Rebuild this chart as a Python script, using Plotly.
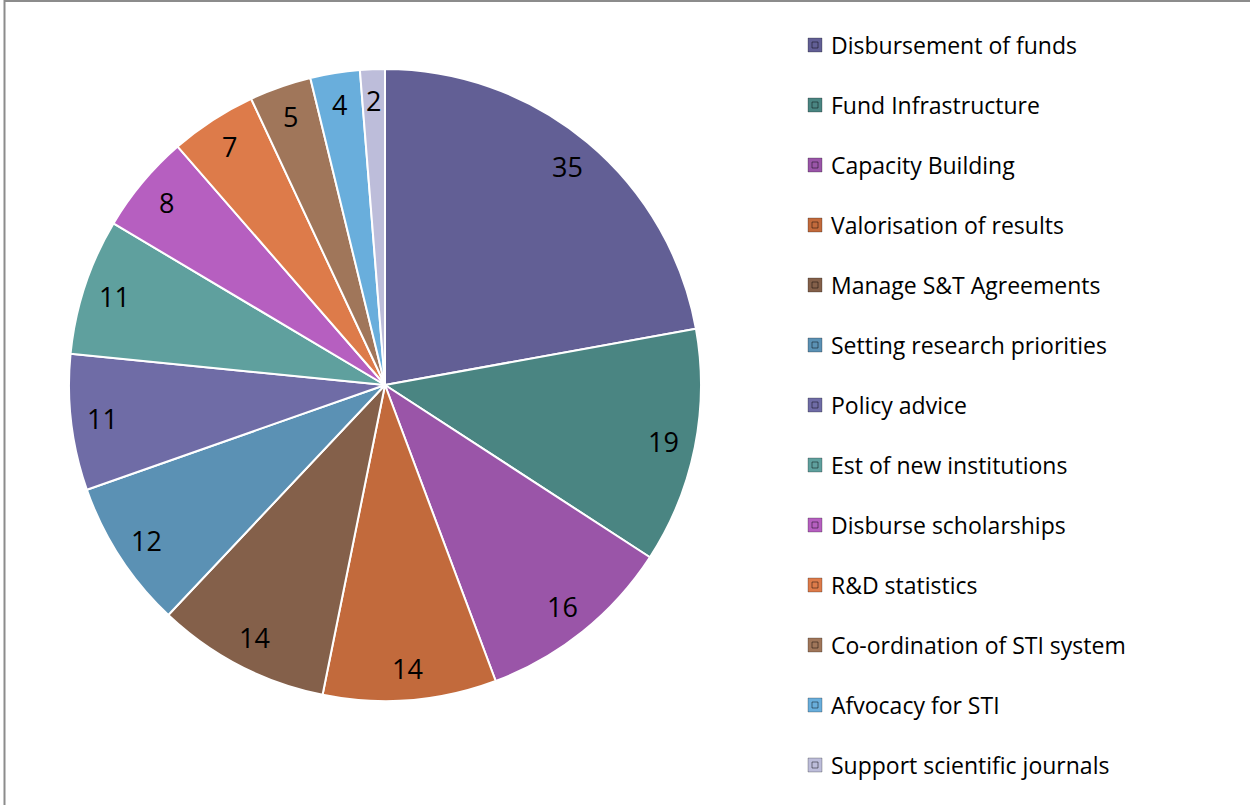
import math
import plotly.graph_objects as go

categories = [
    "Disbursement of funds", "Fund Infrastructure", "Capacity Building",
    "Valorisation of results", "Manage S&T Agreements", "Setting research priorities",
    "Policy advice", "Est of new institutions", "Disburse scholarships",
    "R&D statistics", "Co-ordination of STI system", "Afvocacy for STI",
    "Support scientific journals",
]
values = [35, 19, 16, 14, 14, 12, 11, 11, 8, 7, 5, 4, 2]
colors = [
    "#625F95", "#4A8582", "#9A55A8", "#C26A3C", "#84604A", "#5B91B4",
    "#6F6CA6", "#5FA09E", "#B65FC0", "#DD7B4A", "#A0765A", "#69AEDC",
    "#BDBDDA",
]

W, H = 1250, 805
cx, cy, R = 385, 385, 316

fig = go.Figure()
fig.add_trace(go.Pie(
    labels=categories, values=values, sort=False, direction="clockwise",
    rotation=0, marker=dict(colors=colors, line=dict(color="white", width=2)),
    textinfo="none", showlegend=False, hoverinfo="label+value",
    domain=dict(x=[(cx - R) / W, (cx + R) / W], y=[1 - (cy + R) / H, 1 - (cy - R) / H]),
))

shapes = []
annotations = []

# value labels placed near the outer edge of each slice (mid-angle)
total = sum(values)
cum = 0
for v in values:
    ang = math.radians((cum + v / 2) / total * 360)
    cum += v
    r = 0.9 * R
    px = cx + r * math.sin(ang)
    py = cy - r * math.cos(ang)
    annotations.append(dict(xref="paper", yref="paper", x=px / W, y=1 - py / H,
                            text=str(v), showarrow=False, xanchor="center", yanchor="middle",
                            font=dict(family="Open Sans", size=27, color="black")))

# frame (top and left edges visible)
shapes.append(dict(type="line", xref="paper", yref="paper", x0=4.5 / W, x1=4.5 / W,
                   y0=0, y1=1, line=dict(color="#8C8C8C", width=2)))
shapes.append(dict(type="line", xref="paper", yref="paper", x0=4.5 / W, x1=1,
                   y0=1 - 1 / H, y1=1 - 1 / H, line=dict(color="#8C8C8C", width=2)))

# legend
lx, ly0, dy, ms = 815, 45, 60, 7
for i, (name, col) in enumerate(zip(categories, colors)):
    y = ly0 + i * dy
    shapes.append(dict(type="rect", xref="paper", yref="paper",
                       x0=(lx - ms) / W, x1=(lx + ms) / W,
                       y0=1 - (y + ms) / H, y1=1 - (y - ms) / H,
                       fillcolor=col, line=dict(color="rgba(0,0,0,0.25)", width=1)))
    shapes.append(dict(type="rect", xref="paper", yref="paper",
                       x0=(lx - 3) / W, x1=(lx + 3) / W,
                       y0=1 - (y + 3) / H, y1=1 - (y - 3) / H,
                       fillcolor=col, line=dict(color="rgba(0,0,0,0.45)", width=1)))
    annotations.append(dict(xref="paper", yref="paper", x=(lx + 14) / W, y=1 - y / H,
                            text=name, showarrow=False, xanchor="left", yanchor="middle",
                            font=dict(family="Open Sans", size=23, color="black")))

fig.update_layout(
    width=W, height=H, margin=dict(l=0, r=0, t=0, b=0),
    paper_bgcolor="white", plot_bgcolor="white",
    shapes=shapes, annotations=annotations,
)
fig.write_html("out.html", config={"displayModeBar": False},
               post_script="document.body.style.margin='0';")
